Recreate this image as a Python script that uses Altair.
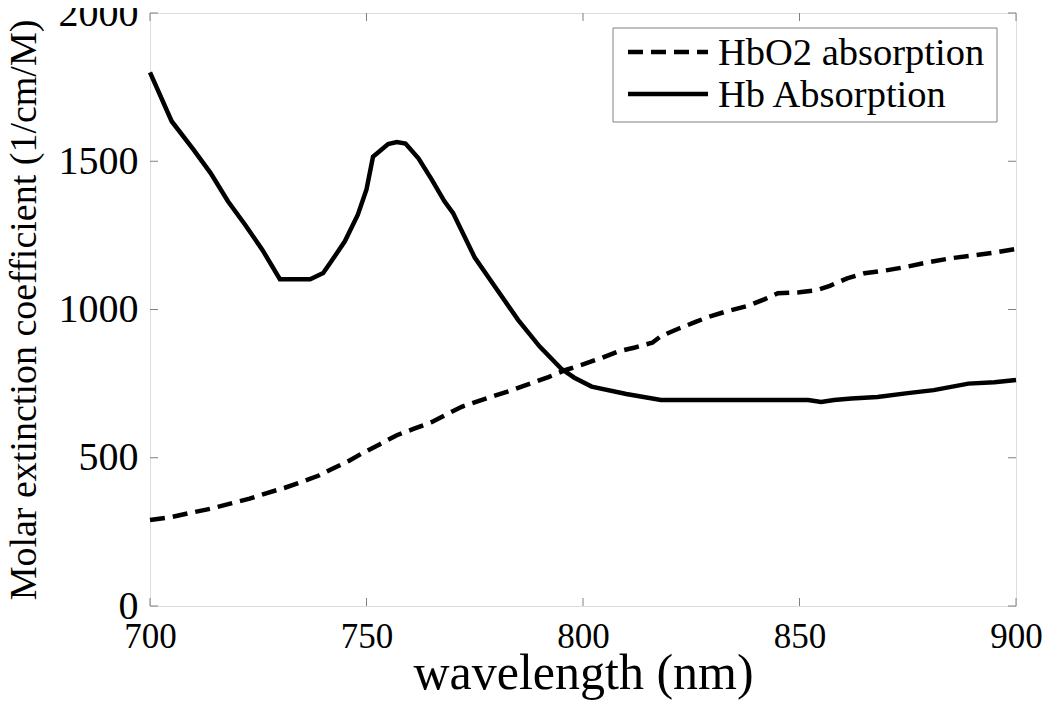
import altair as alt
import pandas as pd

# ---------------- data ----------------
hb_wl = [700, 705, 710, 714, 718, 722, 726, 730, 737, 740, 742, 745, 748, 750, 751.5,
         755, 757, 759, 762, 765, 768, 770, 775, 780, 785, 790, 795, 798, 802, 810,
         818, 852, 855, 858, 862, 868, 875, 881, 889, 895, 900]
hb_val = [1800, 1635, 1540, 1460, 1365, 1285, 1200, 1102, 1102, 1123, 1165, 1230, 1320,
          1405, 1515, 1558, 1565, 1560, 1510, 1440, 1365, 1325, 1175, 1070, 965, 875,
          800, 770, 740, 715, 695, 695, 688, 695, 700, 705, 718, 728, 750, 755, 762]

hbo2_wl = [700, 705, 709, 714, 719, 723, 727, 731, 735, 739, 742, 746, 749, 753, 757,
           761, 765, 769, 772, 776, 780, 784, 788, 792, 796, 800, 804, 808, 812, 816,
           818, 822, 826, 829, 833, 838, 842, 845, 850, 854, 857, 861, 865, 870, 874,
           880, 885, 890, 895, 900]
hbo2_val = [290, 300, 313, 328, 347, 362, 381, 398, 418, 440, 462, 490, 515, 545, 576,
            598, 620, 650, 672, 692, 711, 730, 751, 772, 796, 815, 835, 858, 872, 888,
            910, 935, 958, 975, 993, 1012, 1035, 1055, 1058, 1065, 1080, 1105, 1122,
            1132, 1142, 1160, 1173, 1182, 1192, 1204]

series_names = ["HbO2 absorption", "Hb Absorption"]
x_ticks = [700, 750, 800, 850, 900]
y_ticks = [0, 500, 1000, 1500, 2000]

# ---------------- layout ----------------
W, H = 866, 593
FONT = "Liberation Serif"
GRAY = "#808080"

df_hb = pd.DataFrame({"wl": hb_wl, "v": hb_val})
df_o2 = pd.DataFrame({"wl": hbo2_wl, "v": hbo2_val})
df_xt = pd.DataFrame({"t": x_ticks})
df_yt = pd.DataFrame({"t": y_ticks})
df_one = pd.DataFrame({"k": [0]})
df_l0 = pd.DataFrame({"label": [series_names[0]]})
df_l1 = pd.DataFrame({"label": [series_names[1]]})

xs = alt.Scale(domain=[700, 900], nice=False, zero=False)
ys = alt.Scale(domain=[0, 2000], nice=False, zero=False)

x_axis = alt.Axis(values=x_ticks, format="d", title="wavelength (nm)",
                  labelFont=FONT, labelFontSize=35, labelColor="black",
                  labelPadding=13, labelFlush=False, labelOverlap=False,
                  ticks=False, tickSize=0, domain=False, grid=False,
                  titleFont=FONT, titleFontSize=50, titleFontWeight="normal",
                  titleColor="black", titleX=W / 2, titleY=82,
                  titleBaseline="alphabetic")
y_axis = alt.Axis(values=y_ticks, format="d",
                  title="Molar extinction coefficient (1/cm/M)",
                  labelFont=FONT, labelFontSize=40, labelColor="black",
                  labelPadding=12, labelFlush=False, labelOverlap=False,
                  ticks=False, tickSize=0, domain=False, grid=False,
                  titleFont=FONT, titleFontSize=38, titleFontWeight="normal",
                  titleColor="black", titleX=-115, titleY=H / 2,
                  titleBaseline="alphabetic")

base_o2 = alt.Chart(df_o2).mark_line(color="black", strokeWidth=4.5,
                                     strokeDash=[15, 8]).encode(
    x=alt.X("wl:Q", scale=xs, axis=x_axis),
    y=alt.Y("v:Q", scale=ys, axis=y_axis),
)
hb_line = alt.Chart(df_hb).mark_line(color="black", strokeWidth=4.5).encode(
    x=alt.X("wl:Q", scale=xs),
    y=alt.Y("v:Q", scale=ys),
)

# inward ticks on all four sides
tb = alt.Chart(df_xt).mark_rule(color=GRAY, strokeWidth=1).encode(
    x=alt.X("t:Q", scale=xs), y=alt.value(H), y2=alt.value(H - 8))
tt = alt.Chart(df_xt).mark_rule(color=GRAY, strokeWidth=1).encode(
    x=alt.X("t:Q", scale=xs), y=alt.value(0), y2=alt.value(8))
tl = alt.Chart(df_yt).mark_rule(color=GRAY, strokeWidth=1).encode(
    y=alt.Y("t:Q", scale=ys), x=alt.value(0), x2=alt.value(8))
tr = alt.Chart(df_yt).mark_rule(color=GRAY, strokeWidth=1).encode(
    y=alt.Y("t:Q", scale=ys), x=alt.value(W), x2=alt.value(W - 8))

# legend (drawn manually)
leg_box = alt.Chart(df_one).mark_rect(fill="white", stroke=GRAY, strokeWidth=1).encode(
    x=alt.value(463), x2=alt.value(847), y=alt.value(15), y2=alt.value(109))
leg_l0 = alt.Chart(df_one).mark_rule(color="black", strokeWidth=4.5,
                                     strokeDash=[15, 8]).encode(
    x=alt.value(478), x2=alt.value(558), y=alt.value(39))
leg_l1 = alt.Chart(df_one).mark_rule(color="black", strokeWidth=4.5).encode(
    x=alt.value(478), x2=alt.value(558), y=alt.value(81))
leg_t0 = alt.Chart(df_l0).mark_text(font=FONT, fontSize=38.5, align="left",
                                    baseline="alphabetic", color="black").encode(
    x=alt.value(568), y=alt.value(52), text="label:N")
leg_t1 = alt.Chart(df_l1).mark_text(font=FONT, fontSize=38.5, align="left",
                                    baseline="alphabetic", color="black").encode(
    x=alt.value(568), y=alt.value(94), text="label:N")

chart = alt.layer(base_o2, hb_line, tb, tt, tl, tr,
                  leg_box, leg_l0, leg_l1, leg_t0, leg_t1).properties(
    width=W, height=H,
    autosize=alt.AutoSizeParams(type="none"),
    padding={"left": 142, "top": 5, "right": 26, "bottom": 94},
).configure_view(stroke=GRAY, strokeWidth=1).configure(background="white")

chart.save("out.html", embed_options={"renderer": "svg", "actions": False})
